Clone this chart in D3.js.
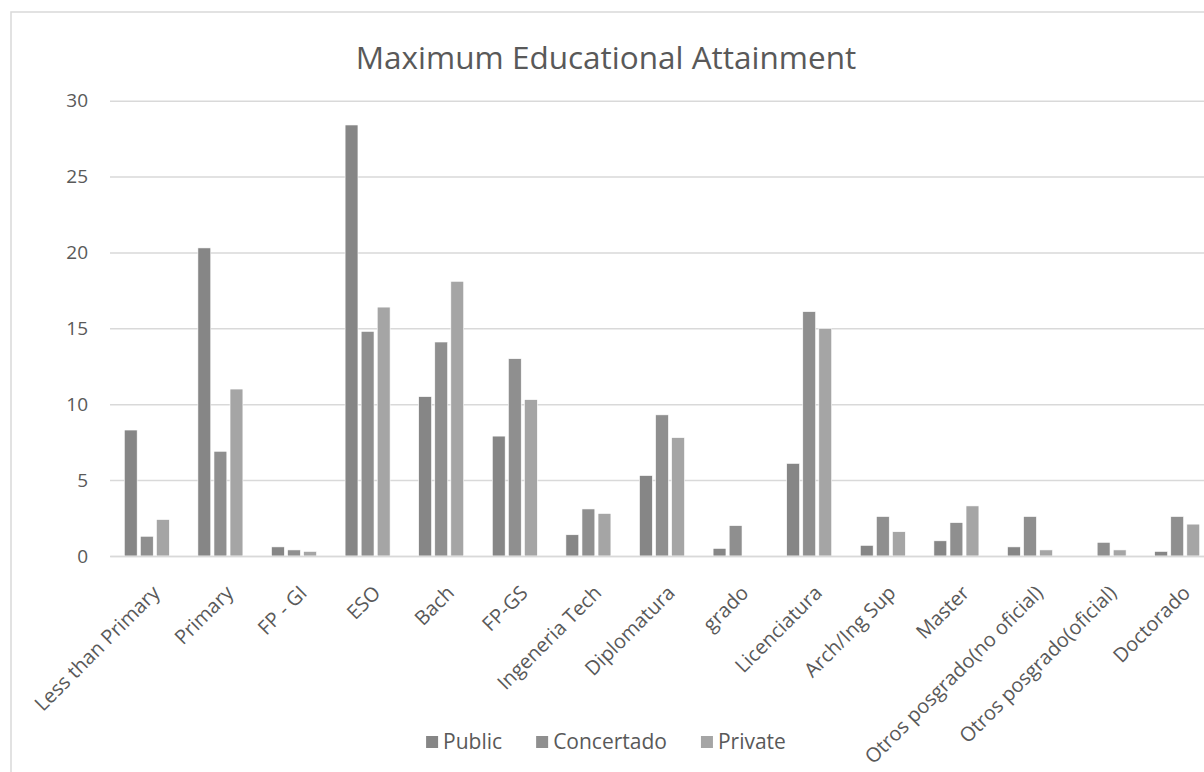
<!DOCTYPE html>
<html>
<head>
<meta charset="utf-8">
<script src="https://cdn.jsdelivr.net/npm/d3@7"></script>
<style>
  html, body { margin: 0; padding: 0; background: #fff; }
  svg { display: block; font-family: "Open Sans", "Noto Sans", sans-serif; }
</style>
</head>
<body>
<svg id="chart" width="1204" height="772"></svg>
<script>
const categories = ["Less than Primary", "Primary", "FP - GI", "ESO", "Bach", "FP-GS", "Ingeneria Tech", "Diplomatura", "grado", "Licenciatura", "Arch/Ing Sup", "Master", "Otros posgrado(no oficial)", "Otros posgrado(oficial)", "Doctorado"];
const seriesNames = ["Public", "Concertado", "Private"];
const publicValues     = [8.3, 20.3, 0.6, 28.4, 10.5, 7.9, 1.4, 5.3, 0.5, 6.1, 0.7, 1.0, 0.6, 0.0, 0.3];
const concertadoValues = [1.3, 6.9, 0.4, 14.8, 14.1, 13.0, 3.1, 9.3, 2.0, 16.1, 2.6, 2.2, 2.6, 0.9, 2.6];
const privateValues    = [2.4, 11.0, 0.3, 16.4, 18.1, 10.3, 2.8, 7.8, 0.0, 15.0, 1.6, 3.3, 0.4, 0.4, 2.1];
const yTicks = [0, 5, 10, 15, 20, 25, 30];
const titleText = "Maximum Educational Attainment";

const colors = ["#868686", "#8f8f8f", "#a5a5a5"];
const textColor = "#595959";
const gridColor = "#d9d9d9";

const svg = d3.select("#chart");
const W = 1204, H = 772;
svg.append("rect").attr("width", W).attr("height", H).attr("fill", "#fff");

// chart area border (right and bottom cut off)
svg.append("rect")
  .attr("x", 11).attr("y", 12)
  .attr("width", 1220).attr("height", 800)
  .attr("fill", "none").attr("stroke", gridColor).attr("stroke-width", 1.5);

const plotLeft = 110, plotRight = 1214, plotTop = 100.7, plotBottom = 556;

const x0 = d3.scaleBand().domain(categories).range([plotLeft, plotRight]).paddingInner(0).paddingOuter(0);
const groupPad = 14.3;
const x1 = d3.scaleBand().domain(seriesNames)
  .range([groupPad, x0.bandwidth() - groupPad]).paddingInner(0.2).paddingOuter(0);
const y = d3.scaleLinear().domain([0, 30]).range([plotBottom, plotTop]);

// gridlines
const yAxis = d3.axisLeft(y).tickValues(yTicks).tickSize(-(plotRight - plotLeft)).tickPadding(22);
const gy = svg.append("g").attr("transform", `translate(${plotLeft},0)`).call(yAxis);
gy.select(".domain").remove();
gy.selectAll(".tick line").attr("stroke", gridColor).attr("stroke-width", 1.5);
gy.selectAll(".tick text").attr("fill", textColor).style("font-size", "19px")
  .style("font-family", '"Open Sans", sans-serif');

// bars
const seriesData = [publicValues, concertadoValues, privateValues];
seriesNames.forEach((s, si) => {
  svg.append("g").selectAll("rect")
    .data(categories.map((c, i) => ({ c, v: seriesData[si][i] })).filter(d => d.v > 0))
    .join("rect")
    .attr("x", d => x0(d.c) + x1(s))
    .attr("width", x1.bandwidth())
    .attr("y", d => y(d.v))
    .attr("height", d => y(0) - y(d.v))
    .attr("fill", colors[si])
    .attr("stroke", "#fff").attr("stroke-width", 0.6);
});

// x axis baseline & labels
const xAxis = d3.axisBottom(x0).tickSize(0).tickPadding(0);
const gx = svg.append("g").attr("transform", `translate(0,${plotBottom})`).call(xAxis);
gx.select(".domain").attr("stroke", gridColor).attr("stroke-width", 1.5);
gx.selectAll(".tick text")
  .attr("fill", textColor)
  .style("font-size", "20px")
  .style("font-family", '"Open Sans", sans-serif')
  .attr("text-anchor", "end")
  .attr("dy", "0.72em")
  .attr("transform", "translate(4,28) rotate(-45)");

// title
svg.append("text")
  .attr("x", 606).attr("y", 69)
  .attr("text-anchor", "middle")
  .attr("fill", textColor)
  .style("font-size", "31.5px")
  .text(titleText);

// legend
const legend = svg.append("g");
let lx = 0;
const itemGap = 34;
seriesNames.forEach((s, i) => {
  const g = legend.append("g");
  g.append("rect").attr("x", 0).attr("y", -6).attr("width", 12).attr("height", 12).attr("fill", colors[i]);
  const t = g.append("text").attr("x", 17).attr("y", 0).attr("dy", "0.35em")
    .attr("fill", textColor).style("font-size", "21px").text(s);
  const w = 17 + t.node().getComputedTextLength();
  g.attr("transform", `translate(${lx},0)`);
  lx += w + itemGap;
});
const totalW = lx - itemGap;
legend.attr("transform", `translate(${606 - totalW / 2},742)`);
</script>
</body>
</html>
